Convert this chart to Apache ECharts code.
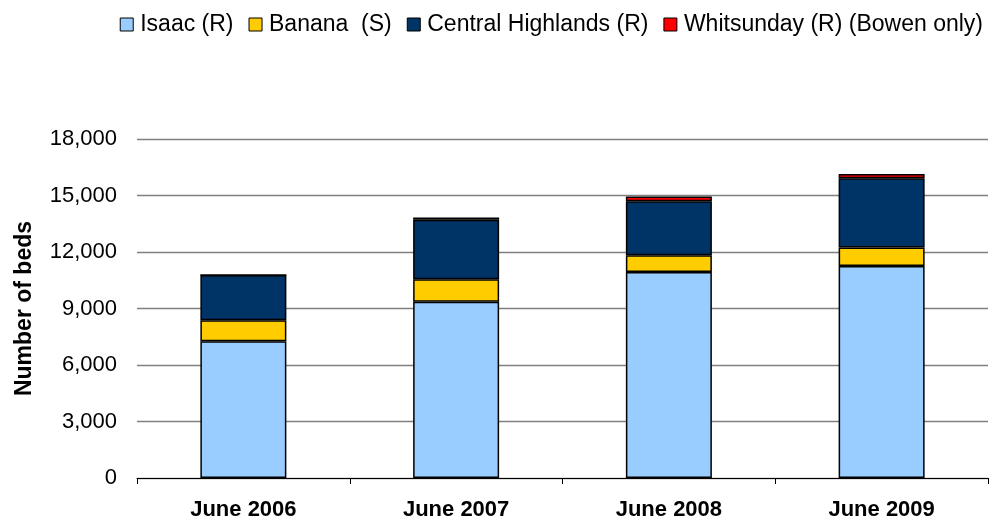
<!DOCTYPE html>
<html><head><meta charset="utf-8">
<script src="https://cdn.jsdelivr.net/npm/echarts@6/dist/echarts.min.js"></script>
<style>html,body{margin:0;padding:0;background:#fff}#c{width:989px;height:522px}</style>
</head><body><div id="c"></div>
<script>
const categories = ['June 2006', 'June 2007', 'June 2008', 'June 2009'];
const isaac = [7260, 9360, 10940, 11260];
const banana = [1110, 1190, 890, 980];
const centralHighlands = [2410, 3160, 2870, 3670];
const whitsunday = [0, 120, 250, 230];
const seriesNames = ['Isaac (R)', 'Banana  (S)', 'Central Highlands (R)', 'Whitsunday (R) (Bowen only)'];
const colors = ['#99ccff', '#ffcc00', '#003366', '#ff0000'];
const yTicks = { min: 0, max: 18000, interval: 3000 };

const font = 'Liberation Sans, Arial, sans-serif';
const chart = echarts.init(document.getElementById('c'));
const dataSets = [isaac, banana, centralHighlands, whitsunday];
chart.setOption({
  animation: false,
  legend: {
    top: 8, right: 1, itemWidth: 13, itemHeight: 13, itemGap: 15, icon: 'rect',
    textStyle: { fontFamily: font, fontSize: 23, color: '#000', padding: [0, 0, 0, 2] },
    data: seriesNames.map(n => ({ name: n, itemStyle: { borderColor: '#000', borderWidth: 1 } }))
  },
  grid: { left: 137, right: 1, top: 139, bottom: 44, containLabel: false, outerBoundsMode: 'none' },
  xAxis: {
    type: 'category', data: categories,
    axisLine: { lineStyle: { color: '#000', width: 1 } },
    axisTick: { show: true, length: 6, lineStyle: { color: '#000' } },
    axisLabel: { fontFamily: font, fontSize: 22, fontWeight: 'bold', color: '#000', margin: 21 }
  },
  yAxis: {
    type: 'value', min: yTicks.min, max: yTicks.max, interval: yTicks.interval,
    name: 'Number of beds', nameLocation: 'middle', nameGap: 101,
    nameTextStyle: { fontFamily: font, fontSize: 23, fontWeight: 'bold', color: '#000' },
    axisLine: { show: false }, axisTick: { show: false },
    splitLine: { lineStyle: { color: '#808080', width: 1.3 } },
    axisLabel: {
      fontFamily: font, fontSize: 22, color: '#000', margin: 20,
      formatter: v => v.toLocaleString('en-US')
    }
  },
  series: dataSets.map((d, i) => ({
    name: seriesNames[i], type: 'bar', stack: 'total', data: d,
    barWidth: 86,
    itemStyle: { color: colors[i], borderColor: '#000', borderWidth: 1.5 }
  }))
});
</script></body></html>
